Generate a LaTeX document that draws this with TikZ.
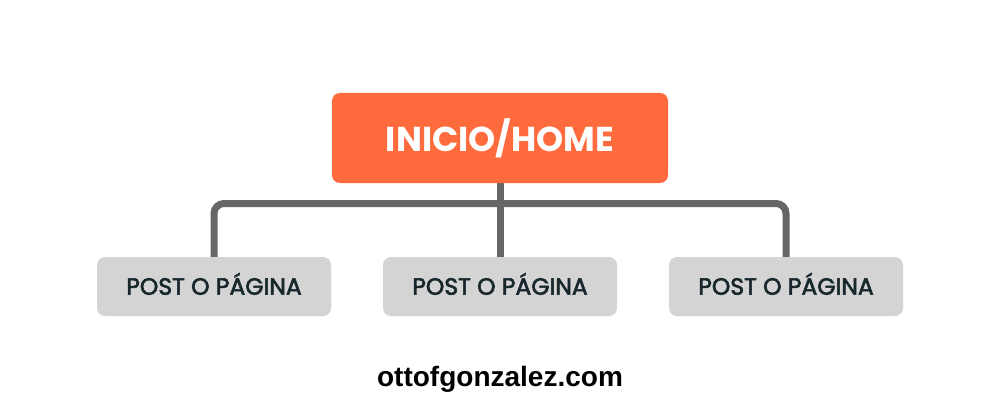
\documentclass[tikz,border=0pt]{standalone}
\usepackage{fontspec}
\usetikzlibrary{backgrounds}
\newfontfamily\titlefont{Poppins}
\newfontfamily\postfont[FakeBold=2.5]{Poppins}
\newfontfamily\sitefont{Liberation Sans}
\definecolor{homeorange}{HTML}{FF6B3D}
\definecolor{postgray}{HTML}{D4D4D4}
\definecolor{conngray}{HTML}{666666}
\definecolor{posttext}{HTML}{17272C}
\begin{document}
\begin{tikzpicture}[x=1pt,y=-1pt,
  homebox/.style={fill=homeorange, rounded corners=8pt, minimum width=336pt, minimum height=90pt, inner sep=0pt, text=white, font=\titlefont\bfseries\fontsize{34.5}{34.5}\selectfont},
  postbox/.style={fill=postgray, rounded corners=8pt, minimum width=234pt, minimum height=59pt, inner sep=0pt, text height=16.4pt, text depth=0pt, text=posttext, font=\postfont\fontsize{23.5}{23.5}\selectfont},
  conn/.style={draw=conngray, line width=7pt, rounded corners=10pt}]
\useasboundingbox (0,0) rectangle (1000,417);
\node[homebox] (home) at (500,138) {INICIO/HOME};
\node[postbox] (p1) at (214,286.5) {POST O PÁGINA};
\node[postbox] (p2) at (500,286.5) {POST O PÁGINA};
\node[postbox] (p3) at (786,286.5) {POST O PÁGINA};
\coordinate (j) at (500,203.5);
\node[font=\sitefont\bfseries\fontsize{28}{28}\selectfont, text=black] (site) at (500,379) {ottofgonzalez.com};
\begin{scope}[on background layer]
\fill[white] (0,0) rectangle (1000,417);
\draw[conn] (home.south) -- (p2.north);
\draw[conn] (p1.north) |- (j) -| (p3.north);
\end{scope}
\end{tikzpicture}
\end{document}
